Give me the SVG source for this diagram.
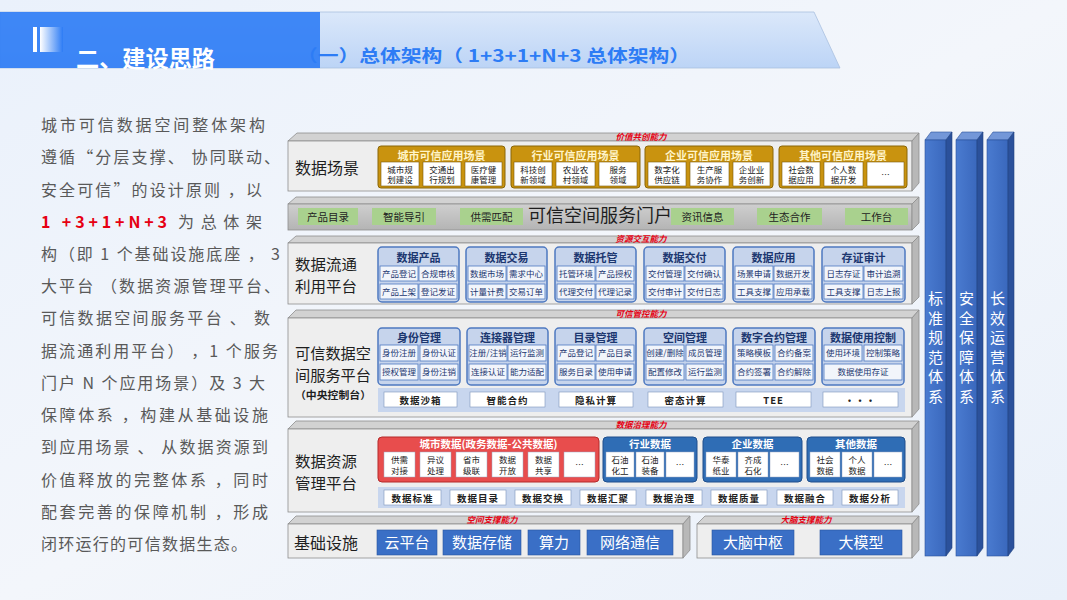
<svg xmlns="http://www.w3.org/2000/svg" width="1067" height="600" viewBox="0 0 1067 600">
<defs>
<linearGradient id="bg" x1="0" y1="0" x2="1" y2="1"><stop offset="0" stop-color="#eaf1fb"/><stop offset="0.5" stop-color="#f3f6fb"/><stop offset="1" stop-color="#e9f0fa"/></linearGradient>
<linearGradient id="band" x1="0" y1="0" x2="0" y2="1"><stop offset="0" stop-color="#dbe8fa"/><stop offset="1" stop-color="#bcd4f6"/></linearGradient>
<linearGradient id="icon" x1="0" y1="0" x2="1" y2="0"><stop offset="0" stop-color="#ffffff"/><stop offset="1" stop-color="#2d7cf5"/></linearGradient>
<linearGradient id="portal" x1="0" y1="0" x2="0" y2="1"><stop offset="0" stop-color="#cfcfcf"/><stop offset="1" stop-color="#b4b4b4"/></linearGradient>
<linearGradient id="pil" x1="0" y1="0" x2="1" y2="0"><stop offset="0" stop-color="#4a7bd0"/><stop offset="1" stop-color="#3a68bd"/></linearGradient>
<style>
.cn{font-family:"Noto Sans CJK SC","Noto Sans",sans-serif}
.top{fill:#d2d2d2;stroke:#8e8e8e;stroke-width:0.8}
.front{fill:#eeeeee;stroke:#8e8e8e;stroke-width:0.8}
.side{fill:#b8b8b8;stroke:#8e8e8e;stroke-width:0.8}
.lbl{font-size:16px;fill:#1e1e1e}
.lbl2{font-size:15px;fill:#1e1e1e}
.red{font-size:8.5px;fill:#e60012;font-weight:bold;font-style:italic;text-anchor:middle}
.gold{fill:#c9930f;stroke:#8a6608;stroke-width:1}
.gt{font-size:11px;fill:#fff4c8;font-weight:bold;text-anchor:middle}
.gc{fill:#ffffff;stroke:#7a5a10;stroke-width:0.6}
.ct{font-size:8.5px;fill:#222;text-anchor:middle}
.green{fill:#a9d18e}
.pt{font-size:10.5px;fill:#222;text-anchor:middle}
.bg{fill:#c6d4ec;stroke:#4d78c0;stroke-width:1.5}
.bt{font-size:11px;fill:#1c3770;font-weight:bold;text-anchor:middle}
.bc{fill:#f2f5fb;stroke:#4d78c0;stroke-width:0.8}
.bct{font-size:8.5px;fill:#1c3770;text-anchor:middle}
.bandr{fill:#c8d6ee}
.wb{fill:#ffffff;stroke:#7e94bb;stroke-width:0.6}
.wbt{font-size:9.5px;fill:#222;font-weight:bold;text-anchor:middle;letter-spacing:1px}
.dg{fill:#2f6db5;stroke:#204f8c;stroke-width:1}
.dt{font-size:10.5px;fill:#ffffff;font-weight:bold;text-anchor:middle}
.wc{fill:#ffffff;stroke:#9aa9c2;stroke-width:0.5}
.ib{fill:#3a6fc6;stroke:#2a559e;stroke-width:0.6}
.ibt{font-size:15px;fill:#ffffff;text-anchor:middle}
.pf{fill:url(#pil);stroke:#2a519b;stroke-width:0.6}
.ps{fill:#2b519b;stroke:#22437f;stroke-width:0.6}
.ptop{fill:#7397d8;stroke:#2a519b;stroke-width:0.6}
.pvt{font-size:15px;fill:#ffffff;text-anchor:middle}
.para{font-size:16px;fill:#595959}
</style>
</defs>
<rect width="1067" height="600" fill="url(#bg)"/>

<g id="header">
<polygon points="0,12 814,12 840,68 0,68" fill="url(#band)" stroke="#a9c0e0" stroke-width="0.8"/>
<text x="297" y="62" class="cn" font-size="17" font-weight="bold" fill="#2d7cf5" textLength="393" lengthAdjust="spacingAndGlyphs">（一）总体架构（ 1+3+1+N+3 总体架构）</text>
<rect x="0" y="12" width="320" height="56" fill="#2d7cf5" opacity="0.9"/>
<rect x="33" y="27" width="4" height="25" fill="#ffffff"/>
<rect x="40" y="27" width="23" height="25" fill="url(#icon)"/>
<text x="76" y="67" class="cn" font-size="23" font-weight="bold" fill="#ffffff" textLength="139" lengthAdjust="spacingAndGlyphs">二、建设思路</text>
</g>

<g id="intro" class="cn para">
<text x="41" y="131" textLength="224" lengthAdjust="spacing">城市可信数据空间整体架构</text>
<text x="41" y="163" textLength="239" lengthAdjust="spacing">遵循“分层支撑、 协同联动、</text>
<text x="41" y="196" textLength="221" lengthAdjust="spacing">安全可信”的设计原则 ，以</text>
<text x="41" y="228" textLength="126" lengthAdjust="spacing" fill="#e60012" font-weight="bold">1 +3+1+N+3</text>
<text x="178" y="228" textLength="84" lengthAdjust="spacing">为 总 体 架</text>
<text x="41" y="260" textLength="239" lengthAdjust="spacing">构（即 1 个基础设施底座 ， 3</text>
<text x="41" y="292" textLength="239" lengthAdjust="spacing">大平台 （数据资源管理平台、</text>
<text x="41" y="324" textLength="229" lengthAdjust="spacing">可信数据空间服务平台 、 数</text>
<text x="41" y="357" textLength="237" lengthAdjust="spacing">据流通利用平台） ，1 个服务</text>
<text x="41" y="389" textLength="224" lengthAdjust="spacing">门户 N 个应用场景）及 3 大</text>
<text x="41" y="421" textLength="227" lengthAdjust="spacing">保障体系 ，构建从基础设施</text>
<text x="41" y="453" textLength="227" lengthAdjust="spacing">到应用场景 、 从数据资源到</text>
<text x="41" y="486" textLength="227" lengthAdjust="spacing">价值释放的完整体系 ，同时</text>
<text x="41" y="518" textLength="227" lengthAdjust="spacing">配套完善的保障机制 ，形成</text>
<text x="41" y="550" textLength="206" lengthAdjust="spacing">闭环运行的可信数据生态。</text>
</g>

<!-- Layer 1: 数据场景 -->
<g id="layer-scene" class="cn">
<polygon class="top" points="288,141 297,133 919,133 912,141"/>
<rect class="front" x="288" y="141" width="624" height="50"/>
<polygon class="side" points="912,141 919,133 919,183 912,191"/>
<text class="red" x="641" y="140">价值共创能力</text>
<text class="lbl" x="295" y="174">数据场景</text>
<g id="scene-city">
<rect class="gold" x="378" y="146" width="127" height="42" rx="3"/>
<text class="gt" x="441.5" y="160">城市可信应用场景</text>
<rect class="gc" x="381" y="162" width="38" height="24"/><rect class="gc" x="423" y="162" width="38" height="24"/><rect class="gc" x="465" y="162" width="37" height="24"/>
<text class="ct" x="400" y="172.5">城市规</text><text class="ct" x="400" y="183">划建设</text>
<text class="ct" x="442" y="172.5">交通出</text><text class="ct" x="442" y="183">行规划</text>
<text class="ct" x="483.5" y="172.5">医疗健</text><text class="ct" x="483.5" y="183">康管理</text>
</g>
<g id="scene-industry">
<rect class="gold" x="511" y="146" width="129" height="42" rx="3"/>
<text class="gt" x="575.5" y="160">行业可信应用场景</text>
<rect class="gc" x="514" y="162" width="38" height="24"/><rect class="gc" x="556" y="162" width="39" height="24"/><rect class="gc" x="599" y="162" width="38" height="24"/>
<text class="ct" x="533" y="172.5">科技创</text><text class="ct" x="533" y="183">新领域</text>
<text class="ct" x="575.5" y="172.5">农业农</text><text class="ct" x="575.5" y="183">村领域</text>
<text class="ct" x="618" y="172.5">服务</text><text class="ct" x="618" y="183">领域</text>
</g>
<g id="scene-enterprise">
<rect class="gold" x="645" y="146" width="128" height="42" rx="3"/>
<text class="gt" x="709" y="160">企业可信应用场景</text>
<rect class="gc" x="648" y="162" width="38" height="24"/><rect class="gc" x="690" y="162" width="39" height="24"/><rect class="gc" x="733" y="162" width="37" height="24"/>
<text class="ct" x="667" y="172.5">数字化</text><text class="ct" x="667" y="183">供应链</text>
<text class="ct" x="709.5" y="172.5">生产服</text><text class="ct" x="709.5" y="183">务协作</text>
<text class="ct" x="751.5" y="172.5">企业业</text><text class="ct" x="751.5" y="183">务创新</text>
</g>
<g id="scene-other">
<rect class="gold" x="779" y="146" width="128" height="42" rx="3"/>
<text class="gt" x="843" y="160">其他可信应用场景</text>
<rect class="gc" x="782" y="162" width="38" height="24"/><rect class="gc" x="824" y="162" width="39" height="24"/><rect class="gc" x="867" y="162" width="37" height="24"/>
<text class="ct" x="801" y="172.5">社会数</text><text class="ct" x="801" y="183">据应用</text>
<text class="ct" x="843.5" y="172.5">个人数</text><text class="ct" x="843.5" y="183">据开发</text>
<text class="ct" x="885.5" y="178">…</text>
</g>
</g>

<!-- Layer 2: 门户 -->
<g id="layer-portal" class="cn">
<polygon class="top" points="288,204 296,197 919,197 912,204"/>
<rect x="288" y="204" width="624" height="26" fill="url(#portal)" stroke="#8e8e8e" stroke-width="0.8"/>
<polygon class="side" points="912,204 919,197 919,223 912,230"/>
<rect class="green" x="298" y="208" width="60" height="17"/><text class="pt" x="328" y="220.5">产品目录</text>
<rect class="green" x="372" y="208" width="64" height="17"/><text class="pt" x="404" y="220.5">智能导引</text>
<rect class="green" x="460" y="208" width="63" height="17"/><text class="pt" x="491.5" y="220.5">供需匹配</text>
<text x="600" y="222" font-size="18" fill="#1e1e1e" text-anchor="middle">可信空间服务门户</text>
<rect class="green" x="671" y="208" width="63" height="17"/><text class="pt" x="702.5" y="220.5">资讯信息</text>
<rect class="green" x="757" y="208" width="65" height="17"/><text class="pt" x="789.5" y="220.5">生态合作</text>
<rect class="green" x="845" y="208" width="63" height="17"/><text class="pt" x="876.5" y="220.5">工作台</text>
</g>

<!-- Layer 3: 数据流通利用平台 -->
<g id="layer-circulation" class="cn">
<polygon class="top" points="288,243 296,236 919,236 912,243"/>
<rect class="front" x="288" y="243" width="624" height="61" fill="#dde4f0"/>
<polygon class="side" points="912,243 919,236 919,297 912,304"/>
<text class="red" x="641" y="242">资源交互能力</text>
<text class="lbl2" x="295" y="270" textLength="62" lengthAdjust="spacingAndGlyphs">数据流通</text>
<text class="lbl2" x="295" y="292" textLength="62" lengthAdjust="spacingAndGlyphs">利用平台</text>
<g id="c-product"><rect class="bg" x="378" y="247" width="81" height="55" rx="4"/><text class="bt" x="418.5" y="262">数据产品</text>
<rect class="bc" x="380" y="266" width="38" height="15"/><rect class="bc" x="419" y="266" width="38" height="15"/><rect class="bc" x="380" y="284" width="38" height="15"/><rect class="bc" x="419" y="284" width="38" height="15"/>
<text class="bct" x="399" y="277">产品登记</text><text class="bct" x="438" y="277">合规审核</text><text class="bct" x="399" y="295">产品上架</text><text class="bct" x="438" y="295">登记发证</text></g>
<g id="c-trade"><rect class="bg" x="466" y="247" width="81" height="55" rx="4"/><text class="bt" x="506.5" y="262">数据交易</text>
<rect class="bc" x="468" y="266" width="38" height="15"/><rect class="bc" x="507" y="266" width="38" height="15"/><rect class="bc" x="468" y="284" width="38" height="15"/><rect class="bc" x="507" y="284" width="38" height="15"/>
<text class="bct" x="487" y="277">数据市场</text><text class="bct" x="526" y="277">需求中心</text><text class="bct" x="487" y="295">计量计费</text><text class="bct" x="526" y="295">交易订单</text></g>
<g id="c-host"><rect class="bg" x="555" y="247" width="81" height="55" rx="4"/><text class="bt" x="595.5" y="262">数据托管</text>
<rect class="bc" x="557" y="266" width="38" height="15"/><rect class="bc" x="596" y="266" width="38" height="15"/><rect class="bc" x="557" y="284" width="38" height="15"/><rect class="bc" x="596" y="284" width="38" height="15"/>
<text class="bct" x="576" y="277">托管环境</text><text class="bct" x="615" y="277">产品授权</text><text class="bct" x="576" y="295">代理交付</text><text class="bct" x="615" y="295">代理记录</text></g>
<g id="c-deliver"><rect class="bg" x="644" y="247" width="81" height="55" rx="4"/><text class="bt" x="684.5" y="262">数据交付</text>
<rect class="bc" x="646" y="266" width="38" height="15"/><rect class="bc" x="685" y="266" width="38" height="15"/><rect class="bc" x="646" y="284" width="38" height="15"/><rect class="bc" x="685" y="284" width="38" height="15"/>
<text class="bct" x="665" y="277">交付管理</text><text class="bct" x="704" y="277">交付确认</text><text class="bct" x="665" y="295">交付审计</text><text class="bct" x="704" y="295">交付日志</text></g>
<g id="c-apply"><rect class="bg" x="733" y="247" width="81" height="55" rx="4"/><text class="bt" x="773.5" y="262">数据应用</text>
<rect class="bc" x="735" y="266" width="38" height="15"/><rect class="bc" x="774" y="266" width="38" height="15"/><rect class="bc" x="735" y="284" width="38" height="15"/><rect class="bc" x="774" y="284" width="38" height="15"/>
<text class="bct" x="754" y="277">场景申请</text><text class="bct" x="793" y="277">数据开发</text><text class="bct" x="754" y="295">工具支撑</text><text class="bct" x="793" y="295">应用承载</text></g>
<g id="c-audit"><rect class="bg" x="822" y="247" width="83" height="55" rx="4"/><text class="bt" x="863.5" y="262">存证审计</text>
<rect class="bc" x="824" y="266" width="39" height="15"/><rect class="bc" x="864" y="266" width="39" height="15"/><rect class="bc" x="824" y="284" width="39" height="15"/><rect class="bc" x="864" y="284" width="39" height="15"/>
<text class="bct" x="843.5" y="277">日志存证</text><text class="bct" x="883.5" y="277">审计追溯</text><text class="bct" x="843.5" y="295">工具支撑</text><text class="bct" x="883.5" y="295">日志上报</text></g>
</g>

<!-- Layer 4: 可信数据空间服务平台 -->
<g id="layer-trusted" class="cn">
<polygon class="top" points="288,318 296,310 919,310 912,318"/>
<rect class="front" x="288" y="318" width="624" height="99"/>
<polygon class="side" points="912,318 919,310 919,409 912,417"/>
<text class="red" x="641" y="316.5">可信管控能力</text>
<text class="lbl2" x="295" y="359" textLength="76" lengthAdjust="spacingAndGlyphs">可信数据空</text>
<text class="lbl2" x="295" y="381" textLength="76" lengthAdjust="spacingAndGlyphs">间服务平台</text>
<text x="295" y="399" font-size="10.5" font-weight="bold" fill="#1e1e1e" textLength="76" lengthAdjust="spacingAndGlyphs">（中央控制台）</text>
<g id="t-identity"><rect class="bg" x="378" y="328" width="82" height="57" rx="4"/><text class="bt" x="419" y="342">身份管理</text>
<rect class="bc" x="380" y="345" width="38" height="16"/><rect class="bc" x="420" y="345" width="38" height="16"/><rect class="bc" x="380" y="364" width="38" height="16"/><rect class="bc" x="420" y="364" width="38" height="16"/>
<text class="bct" x="399" y="356">身份注册</text><text class="bct" x="439" y="356">身份认证</text><text class="bct" x="399" y="375">授权管理</text><text class="bct" x="439" y="375">身份注销</text></g>
<g id="t-connector"><rect class="bg" x="467" y="328" width="81" height="57" rx="4"/><text class="bt" x="507.5" y="342">连接器管理</text>
<rect class="bc" x="469" y="345" width="38" height="16"/><rect class="bc" x="508" y="345" width="38" height="16"/><rect class="bc" x="469" y="364" width="38" height="16"/><rect class="bc" x="508" y="364" width="38" height="16"/>
<text class="bct" x="488" y="356">注册/注销</text><text class="bct" x="527" y="356">运行监测</text><text class="bct" x="488" y="375">连接认证</text><text class="bct" x="527" y="375">能力适配</text></g>
<g id="t-catalog"><rect class="bg" x="555" y="328" width="81" height="57" rx="4"/><text class="bt" x="595.5" y="342">目录管理</text>
<rect class="bc" x="557" y="345" width="38" height="16"/><rect class="bc" x="596" y="345" width="38" height="16"/><rect class="bc" x="557" y="364" width="38" height="16"/><rect class="bc" x="596" y="364" width="38" height="16"/>
<text class="bct" x="576" y="356">产品登记</text><text class="bct" x="615" y="356">产品目录</text><text class="bct" x="576" y="375">服务目录</text><text class="bct" x="615" y="375">使用申请</text></g>
<g id="t-space"><rect class="bg" x="644" y="328" width="82" height="57" rx="4"/><text class="bt" x="685" y="342">空间管理</text>
<rect class="bc" x="646" y="345" width="38" height="16"/><rect class="bc" x="686" y="345" width="38" height="16"/><rect class="bc" x="646" y="364" width="38" height="16"/><rect class="bc" x="686" y="364" width="38" height="16"/>
<text class="bct" x="665" y="356">创建/删除</text><text class="bct" x="705" y="356">成员管理</text><text class="bct" x="665" y="375">配置修改</text><text class="bct" x="705" y="375">运行监测</text></g>
<g id="t-contract"><rect class="bg" x="733" y="328" width="82" height="57" rx="4"/><text class="bt" x="774" y="342">数字合约管理</text>
<rect class="bc" x="735" y="345" width="38" height="16"/><rect class="bc" x="775" y="345" width="38" height="16"/><rect class="bc" x="735" y="364" width="38" height="16"/><rect class="bc" x="775" y="364" width="38" height="16"/>
<text class="bct" x="754" y="356">策略模板</text><text class="bct" x="794" y="356">合约备案</text><text class="bct" x="754" y="375">合约签署</text><text class="bct" x="794" y="375">合约解除</text></g>
<g id="t-usage"><rect class="bg" x="822" y="328" width="82" height="57" rx="4"/><text class="bt" x="863" y="342">数据使用控制</text>
<rect class="bc" x="824" y="345" width="38" height="16"/><rect class="bc" x="864" y="345" width="38" height="16"/><rect class="bc" x="824" y="364" width="78" height="16"/>
<text class="bct" x="843" y="356">使用环境</text><text class="bct" x="883" y="356">控制策略</text><text class="bct" x="863" y="375">数据使用存证</text></g>
<g id="t-tech">
<rect class="bandr" x="378" y="388" width="527" height="24"/>
<rect class="wb" x="384" y="392" width="73" height="15"/><text class="wbt" x="420.5" y="403.5">数据沙箱</text>
<rect class="wb" x="470" y="392" width="75" height="15"/><text class="wbt" x="507.5" y="403.5">智能合约</text>
<rect class="wb" x="559" y="392" width="74" height="15"/><text class="wbt" x="596" y="403.5">隐私计算</text>
<rect class="wb" x="648" y="392" width="75" height="15"/><text class="wbt" x="685.5" y="403.5">密态计算</text>
<rect class="wb" x="736" y="392" width="75" height="15"/><text class="wbt" x="773.5" y="403.5">TEE</text>
<rect class="wb" x="823" y="392" width="75" height="15"/><text class="wbt" x="860.5" y="403.5">···</text>
</g>
</g>

<!-- Layer 5: 数据资源管理平台 -->
<g id="layer-resource" class="cn">
<polygon class="top" points="288,429 296,421 919,421 912,429"/>
<rect class="front" x="288" y="429" width="624" height="83"/>
<polygon class="side" points="912,429 919,421 919,504 912,512"/>
<text class="red" x="641" y="428">数据治理能力</text>
<text class="lbl2" x="295" y="467" textLength="62" lengthAdjust="spacingAndGlyphs">数据资源</text>
<text class="lbl2" x="295" y="489" textLength="62" lengthAdjust="spacingAndGlyphs">管理平台</text>
<g id="r-city">
<rect x="378" y="437" width="221" height="45" rx="4" fill="#e84d4d" stroke="#b52a2a" stroke-width="1"/>
<text class="dt" x="488.5" y="448">城市数据(政务数据-公共数据)</text>
<rect class="wc" x="384" y="452" width="31" height="25"/><text class="ct" x="399.5" y="463">供需</text><text class="ct" x="399.5" y="474">对接</text>
<rect class="wc" x="420" y="452" width="31" height="25"/><text class="ct" x="435.5" y="463">异议</text><text class="ct" x="435.5" y="474">处理</text>
<rect class="wc" x="456" y="452" width="31" height="25"/><text class="ct" x="471.5" y="463">省市</text><text class="ct" x="471.5" y="474">级联</text>
<rect class="wc" x="492" y="452" width="31" height="25"/><text class="ct" x="507.5" y="463">数据</text><text class="ct" x="507.5" y="474">开放</text>
<rect class="wc" x="528" y="452" width="31" height="25"/><text class="ct" x="543.5" y="463">数据</text><text class="ct" x="543.5" y="474">共享</text>
<rect class="wc" x="564" y="452" width="31" height="25"/><text class="ct" x="579.5" y="468">…</text>
</g>
<g id="r-industry">
<rect class="dg" x="603" y="437" width="94" height="45" rx="4"/>
<text class="dt" x="650" y="448">行业数据</text>
<rect class="wc" x="606" y="452" width="28" height="25"/><text class="ct" x="620" y="463">石油</text><text class="ct" x="620" y="474">化工</text>
<rect class="wc" x="636" y="452" width="28" height="25"/><text class="ct" x="650" y="463">石油</text><text class="ct" x="650" y="474">装备</text>
<rect class="wc" x="666" y="452" width="28" height="25"/><text class="ct" x="680" y="468">…</text>
</g>
<g id="r-enterprise">
<rect class="dg" x="703" y="437" width="99" height="45" rx="4"/>
<text class="dt" x="752.5" y="448">企业数据</text>
<rect class="wc" x="706" y="452" width="30" height="25"/><text class="ct" x="721" y="463">华泰</text><text class="ct" x="721" y="474">纸业</text>
<rect class="wc" x="738" y="452" width="30" height="25"/><text class="ct" x="753" y="463">齐成</text><text class="ct" x="753" y="474">石化</text>
<rect class="wc" x="770" y="452" width="29" height="25"/><text class="ct" x="784.5" y="468">…</text>
</g>
<g id="r-other">
<rect class="dg" x="807" y="437" width="98" height="45" rx="4"/>
<text class="dt" x="856" y="448">其他数据</text>
<rect class="wc" x="810" y="452" width="30" height="25"/><text class="ct" x="825" y="463">社会</text><text class="ct" x="825" y="474">数据</text>
<rect class="wc" x="842" y="452" width="30" height="25"/><text class="ct" x="857" y="463">个人</text><text class="ct" x="857" y="474">数据</text>
<rect class="wc" x="874" y="452" width="28" height="25"/><text class="ct" x="888" y="468">…</text>
</g>
<g id="r-gov">
<rect class="bandr" x="378" y="487" width="527" height="21"/>
<rect class="wb" x="384" y="490" width="57" height="15"/><text class="wbt" x="412.5" y="501.5">数据标准</text>
<rect class="wb" x="450" y="490" width="56" height="15"/><text class="wbt" x="478" y="501.5">数据目录</text>
<rect class="wb" x="515" y="490" width="56" height="15"/><text class="wbt" x="543" y="501.5">数据交换</text>
<rect class="wb" x="580" y="490" width="56" height="15"/><text class="wbt" x="608" y="501.5">数据汇聚</text>
<rect class="wb" x="646" y="490" width="56" height="15"/><text class="wbt" x="674" y="501.5">数据治理</text>
<rect class="wb" x="711" y="490" width="56" height="15"/><text class="wbt" x="739" y="501.5">数据质量</text>
<rect class="wb" x="777" y="490" width="56" height="15"/><text class="wbt" x="805" y="501.5">数据融合</text>
<rect class="wb" x="842" y="490" width="56" height="15"/><text class="wbt" x="870" y="501.5">数据分析</text>
</g>
</g>

<!-- Layer 6: 基础设施 -->
<g id="layer-infra" class="cn">
<polygon class="top" points="288,524 296,516 690,516 683,524"/>
<rect class="front" x="288" y="524" width="395" height="34" fill="#c9c9c9"/>
<polygon class="side" points="683,524 690,516 690,550 683,558"/>
<text class="red" x="492" y="522.5">空间支撑能力</text>
<text class="lbl" x="294" y="549">基础设施</text>
<rect class="ib" x="377" y="530" width="60" height="25"/><text class="ibt" x="407" y="548">云平台</text>
<rect class="ib" x="443" y="530" width="78" height="25"/><text class="ibt" x="482" y="548">数据存储</text>
<rect class="ib" x="528" y="530" width="52" height="25"/><text class="ibt" x="554" y="548">算力</text>
<rect class="ib" x="587" y="530" width="86" height="25"/><text class="ibt" x="630" y="548">网络通信</text>
</g>
<g id="layer-brain" class="cn">
<polygon class="top" points="697,524 705,516 919,516 912,524"/>
<rect class="front" x="697" y="524" width="215" height="34" fill="#c9c9c9"/>
<polygon class="side" points="912,524 919,516 919,550 912,558"/>
<text class="red" x="806" y="522.5">大脑支撑能力</text>
<rect class="ib" x="712" y="530" width="82" height="25"/><text class="ibt" x="753" y="548">大脑中枢</text>
<rect class="ib" x="820" y="530" width="82" height="25"/><text class="ibt" x="861" y="548">大模型</text>
</g>

<!-- Pillars -->
<g id="pillar-standard" class="cn">
<polygon class="ptop" points="925,140 931,132 952,132 946,140"/>
<rect class="pf" x="925" y="140" width="21" height="416"/>
<polygon class="ps" points="946,140 952,132 952,548 946,556"/>
<text class="pvt" x="935.5" y="304">标<tspan x="935.5" dy="19.5">准</tspan><tspan x="935.5" dy="19.5">规</tspan><tspan x="935.5" dy="19.5">范</tspan><tspan x="935.5" dy="19.5">体</tspan><tspan x="935.5" dy="19.5">系</tspan></text>
</g>
<g id="pillar-security" class="cn">
<polygon class="ptop" points="956,140 962,132 983,132 977,140"/>
<rect class="pf" x="956" y="140" width="21" height="416"/>
<polygon class="ps" points="977,140 983,132 983,548 977,556"/>
<text class="pvt" x="966.5" y="304">安<tspan x="966.5" dy="19.5">全</tspan><tspan x="966.5" dy="19.5">保</tspan><tspan x="966.5" dy="19.5">障</tspan><tspan x="966.5" dy="19.5">体</tspan><tspan x="966.5" dy="19.5">系</tspan></text>
</g>
<g id="pillar-operation" class="cn">
<polygon class="ptop" points="987,140 993,132 1014,132 1008,140"/>
<rect class="pf" x="987" y="140" width="21" height="416"/>
<polygon class="ps" points="1008,140 1014,132 1014,548 1008,556"/>
<text class="pvt" x="997.5" y="304">长<tspan x="997.5" dy="19.5">效</tspan><tspan x="997.5" dy="19.5">运</tspan><tspan x="997.5" dy="19.5">营</tspan><tspan x="997.5" dy="19.5">体</tspan><tspan x="997.5" dy="19.5">系</tspan></text>
</g>
</svg>
